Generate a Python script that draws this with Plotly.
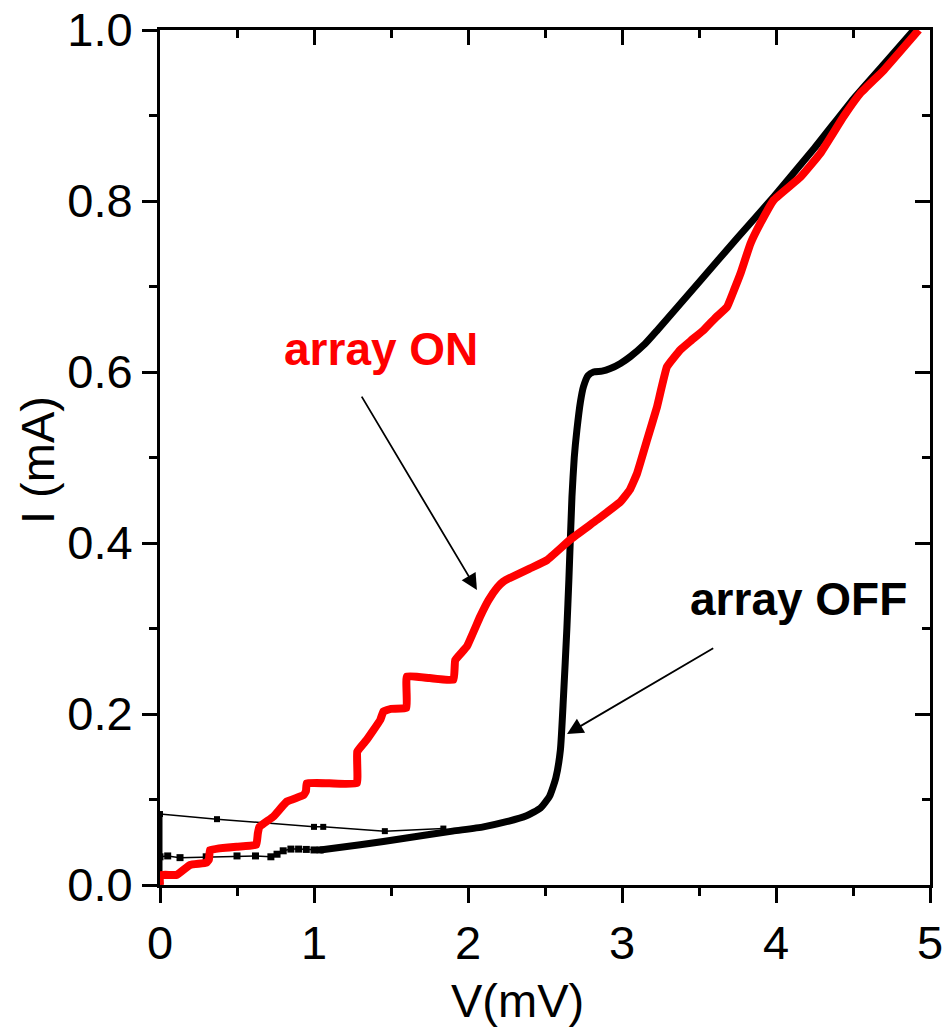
import plotly.graph_objects as go

# ---------------- data ----------------
# array ON (red)
on_v = [0.0, 0.0, 0.108, 0.195, 0.30, 0.318, 0.325, 0.498, 0.625, 0.635, 0.645, 0.736, 0.823, 0.931,
        0.948, 0.953, 1.10, 1.278, 1.281, 1.343, 1.43, 1.451, 1.50, 1.60, 1.603, 1.75, 1.906, 1.917,
        1.993, 2.079, 2.133, 2.19, 2.23, 2.27, 2.40, 2.513, 2.664, 2.837, 2.989, 3.05, 3.097, 3.162, 3.227,
        3.292, 3.379, 3.45, 3.53, 3.61, 3.682, 3.73, 3.769, 3.834, 3.899, 3.985, 4.159, 4.289, 4.44,
        4.548, 4.70, 4.927]
on_i = [0.0, 0.0117, 0.0117, 0.0234, 0.026, 0.030, 0.041, 0.0448, 0.047, 0.060, 0.068, 0.080, 0.0975,
        0.105, 0.110, 0.119, 0.119, 0.119, 0.156, 0.170, 0.193, 0.203, 0.206, 0.207, 0.244, 0.242,
        0.240, 0.263, 0.279, 0.314, 0.333, 0.348, 0.355, 0.359, 0.370, 0.380, 0.404, 0.427, 0.448, 0.462,
        0.481, 0.520, 0.559, 0.606, 0.626, 0.637, 0.649, 0.664, 0.676, 0.697, 0.715, 0.750, 0.774,
        0.801, 0.828, 0.856, 0.899, 0.926, 0.953, 1.0]

# array OFF (black) main branch
off_v = [1.04, 1.30, 1.60, 1.90, 2.10, 2.25, 2.38, 2.47, 2.53, 2.57, 2.60, 2.62, 2.642, 2.655, 2.675,
         2.69, 2.707, 2.73, 2.75, 2.78, 2.815, 2.87, 2.924, 2.99, 3.054, 3.15, 3.23, 3.50, 3.75, 3.985,
         4.25, 4.505, 4.70, 4.895]
off_i = [0.041, 0.047, 0.055, 0.063, 0.068, 0.074, 0.081, 0.090, 0.104, 0.125, 0.158, 0.22, 0.30,
         0.357, 0.454, 0.50, 0.532, 0.565, 0.583, 0.596, 0.600, 0.601, 0.604, 0.610, 0.618, 0.633,
         0.649, 0.705, 0.757, 0.805, 0.862, 0.920, 0.960, 1.0]

# array OFF: vertical segment at zero voltage
off0_v = [0.0, 0.0]
off0_i = [0.0, 0.085]

# array OFF: lower sparse branch
offlow_v = [0.0, 0.05, 0.13, 0.30, 0.50, 0.62, 0.72, 0.76, 0.80, 0.85, 0.90, 0.95, 1.0, 1.04]
offlow_i = [0.033, 0.034, 0.032, 0.033, 0.034, 0.034, 0.033, 0.036, 0.040, 0.042, 0.042, 0.0416, 0.041, 0.041]

# array OFF: return branch
offret_v = [0.0, 0.37, 1.00, 1.06, 1.46, 1.84]
offret_i = [0.083, 0.077, 0.068, 0.068, 0.063, 0.066]

# labels / arrows (data coords)
on_label = ("array ON", 1.436, 0.627)
off_label = ("array OFF", 4.146, 0.3345)
on_arrow = (2.058, 0.345, 1.304, 0.573)      # head x,y ; tail x,y
off_arrow = (2.643, 0.1766, 3.602, 0.278)

x_ticks = [0, 1, 2, 3, 4, 5]
y_ticks = [0.0, 0.2, 0.4, 0.6, 0.8, 1.0]
y_ticktext = ["0.0", "0.2", "0.4", "0.6", "0.8", "1.0"]

FONT = "Liberation Sans, Arial, sans-serif"
RED = "#ff0000"

fig = go.Figure()

fig.add_trace(go.Scatter(x=offret_v, y=offret_i, mode="lines+markers",
                         line=dict(color="black", width=1.5),
                         marker=dict(symbol="square", size=6, color="black"),
                         showlegend=False, hoverinfo="skip"))
fig.add_trace(go.Scatter(x=offlow_v, y=offlow_i, mode="lines+markers",
                         line=dict(color="black", width=1.5),
                         marker=dict(symbol="square", size=7, color="black"),
                         showlegend=False, hoverinfo="skip"))
fig.add_trace(go.Scatter(x=off0_v, y=off0_i, mode="lines",
                         line=dict(color="black", width=5),
                         showlegend=False, hoverinfo="skip"))
fig.add_trace(go.Scatter(x=off_v, y=off_i, mode="lines",
                         line=dict(color="black", width=7, shape="spline", smoothing=0.5),
                         showlegend=False, hoverinfo="skip"))
fig.add_trace(go.Scatter(x=on_v, y=on_i, mode="lines",
                         line=dict(color=RED, width=8, shape="spline", smoothing=0.3),
                         showlegend=False, hoverinfo="skip"))
# dummy trace to activate mirrored axes
fig.add_trace(go.Scatter(x=[0], y=[0], xaxis="x2", yaxis="y2", mode="markers",
                         marker=dict(opacity=0), showlegend=False, hoverinfo="skip"))

axis_common = dict(showgrid=False, zeroline=False, showline=True, linecolor="black",
                   linewidth=3, ticks="outside", tickwidth=2.5, ticklen=15, tickcolor="black",
                   automargin=False,
                   tickfont=dict(family=FONT, size=47, color="black"))

mirror_common = dict(showgrid=False, zeroline=False, showline=True, linecolor="black", linewidth=3,
                     ticks="inside", ticklen=15, tickwidth=2.5, tickcolor="black",
                     showticklabels=False, automargin=False)

fig.update_layout(
    template="none",
    width=946, height=1029,
    margin=dict(l=160, r=16, t=30, b=144, autoexpand=False),
    paper_bgcolor="white", plot_bgcolor="white",
    xaxis=dict(range=[0, 5], tickvals=x_ticks,
               minor=dict(dtick=0.5, ticklen=8, tickwidth=2.5, tickcolor="black", ticks="outside"),
               **axis_common),
    yaxis=dict(range=[0, 1], tickvals=y_ticks, ticktext=y_ticktext,
               minor=dict(dtick=0.1, ticklen=8, tickwidth=2.5, tickcolor="black", ticks="outside"),
               **axis_common),
    xaxis2=dict(range=[0, 5], overlaying="x", side="top", matches="x", tickvals=x_ticks,
                minor=dict(dtick=0.5, ticklen=8, tickwidth=2.5, tickcolor="black", ticks="inside"),
                **mirror_common),
    yaxis2=dict(range=[0, 1], overlaying="y", side="right", matches="y", tickvals=y_ticks,
                minor=dict(dtick=0.1, ticklen=8, tickwidth=2.5, tickcolor="black", ticks="inside"),
                **mirror_common),
    showlegend=False,
)

annotations = [
    dict(text="V(mV)", xref="paper", yref="paper", x=(517 - 160) / 770, y=(885 - 1000) / 855,
         xanchor="center", yanchor="middle", showarrow=False,
         font=dict(family=FONT, size=47, color="black")),
    dict(text="I (mA)", xref="paper", yref="paper", x=(37 - 160) / 770, y=(885 - 460) / 855,
         xanchor="center", yanchor="middle", showarrow=False, textangle=-90,
         font=dict(family=FONT, size=47, color="black")),
    dict(text="<b>%s</b>" % on_label[0], x=on_label[1], y=on_label[2], xref="x", yref="y",
         showarrow=False, xanchor="center", yanchor="middle",
         font=dict(family=FONT, size=46, color=RED)),
    dict(text="<b>%s</b>" % off_label[0], x=off_label[1], y=off_label[2], xref="x", yref="y",
         showarrow=False, xanchor="center", yanchor="middle",
         font=dict(family=FONT, size=46, color="black")),
]
for hx, hy, tx, ty in (on_arrow, off_arrow):
    annotations.append(dict(text="", x=hx, y=hy, ax=tx, ay=ty, xref="x", yref="y",
                            axref="x", ayref="y", showarrow=True, arrowhead=2,
                            arrowsize=1.8, arrowwidth=1.8, arrowcolor="black", standoff=0))
fig.update_layout(annotations=annotations)

fig.write_html("out.html")
